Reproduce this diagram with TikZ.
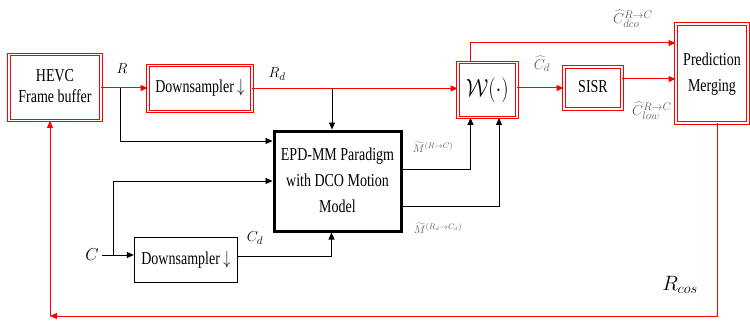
\documentclass[tikz,border=0pt]{standalone}
\usepackage{fontspec}
\usepackage{graphicx}
\setmainfont{Liberation Serif}
\usetikzlibrary{arrows.meta}
\newcommand\tallbox[1]{\scalebox{1}[1.3]{\begin{tabular}{@{}c@{}}#1\end{tabular}}}
\tikzset{
  redbox/.style={draw=red,double=white,double distance=1.6pt,line width=0.9pt,align=center,inner sep=2pt},
  blackbox/.style={draw,line width=1.4pt,align=center,inner sep=2pt},
  redline/.style={red,line width=1pt},
  blackline/.style={black,line width=0.8pt},
  greylabel/.style={gray!75!black,font=\fontsize{11}{12}\selectfont}
}
\begin{document}
\begin{tikzpicture}[x=1pt,y=-1pt,>={Triangle[length=7pt,width=6pt]},font=\fontsize{14}{16}\selectfont]
\useasboundingbox (0,0) rectangle (750,321);

\node[redbox,minimum width=92pt,minimum height=66pt] (hevc) at (55,87.5) {\tallbox{HEVC\\Frame buffer}};
\node[redbox,minimum width=104pt,minimum height=46pt] (dsr) at (200,88.5) {\tallbox{Downsampler $\downarrow$}};
\node[redbox,minimum width=59pt,minimum height=55pt] (warp) at (487.5,90) {\fontsize{20}{22}\selectfont\scalebox{1}[1.2]{$\mathcal{W}(\cdot)$}};
\node[redbox,minimum width=58pt,minimum height=42pt] (sisr) at (593,88) {\tallbox{SISR}};
\node[redbox,minimum width=72pt,minimum height=99pt] (merge) at (712,73.5) {\fontsize{14}{20}\selectfont\tallbox{Prediction\\Merging}};
\node[blackbox,line width=3pt,minimum width=127pt,minimum height=100pt] (epd) at (337.5,181) {\fontsize{14}{20}\selectfont\tallbox{EPD-MM Paradigm\\with DCO Motion\\Model}};
\node[blackbox,minimum width=103pt,minimum height=45pt] (dsc) at (186,260) {\tallbox{Downsampler $\downarrow$}};

\node (c) at (92,255) {\fontsize{16}{18}\selectfont$C$};
\node (lr) at (122,69) {\fontsize{15}{16}\selectfont$R$};
\node (lrd) at (277,74) {\fontsize{15}{16}\selectfont$R_d$};
\node (lcd) at (255,238) {\fontsize{15}{16}\selectfont$C_d$};
\node[greylabel,font=\fontsize{15}{16}\selectfont] (lchd) at (542,64) {$\widehat{C}_d$};
\node[greylabel,font=\fontsize{15}{16}\selectfont] (ldco) at (633,19) {$\widehat{C}^{R\to C}_{dco}$};
\node[greylabel,font=\fontsize{15}{16}\selectfont] (llow) at (652,111) {$\widehat{C}^{R\to C}_{low}$};
\node[greylabel] (lm1) at (433,147) {$\widetilde{M}^{(R\to C)}$};
\node[greylabel] (lm2) at (438,228) {$\widetilde{M}^{(R_d\to C_d)}$};
\node (lcos) at (680,285) {\fontsize{22}{24}\selectfont$R_{cos}$};

\coordinate (rb) at (120,88);
\coordinate (rdb) at (332,88.5);
\coordinate (cb) at (113,255);
\coordinate (fb) at (50,316);

\draw[redline,arrows=->] (hevc.east |- rb) -- (rb -| dsr.west);
\draw[blackline,arrows=->] (rb) |- ([yshift=40pt]epd.west);
\draw[redline,arrows=->] (dsr.east) -- (dsr.east -| warp.west);
\draw[blackline,arrows=->] (rdb) -- (rdb |- epd.north);
\draw[blackline,arrows=->] (c.east |- cb) -- (cb -| dsc.west);
\draw[blackline,arrows=->] (cb) |- (epd.west);
\draw[blackline,arrows=->] ([yshift=4pt]dsc.east) -| ([xshift=-6pt]epd.south);
\draw[blackline,arrows=->] ([yshift=12pt]epd.east) -| ([xshift=-17pt]warp.south);
\draw[blackline,arrows=->] ([yshift=-25pt]epd.east) -| ([xshift=11.5pt]warp.south);
\draw[redline,arrows=->] (warp.east |- sisr.west) -- (sisr.west);
\draw[redline,arrows=->] ([yshift=9pt]sisr.east) -- ([yshift=9pt]sisr.east -| merge.west);
\draw[redline,arrows=->] ([xshift=-17pt]warp.north) |- ([yshift=30.5pt]merge.west);
\draw[redline,arrows=->] ([xshift=5pt]merge.south) |- (fb);
\draw[redline,arrows=->] (fb) -- (fb |- hevc.south);
\end{tikzpicture}
\end{document}
